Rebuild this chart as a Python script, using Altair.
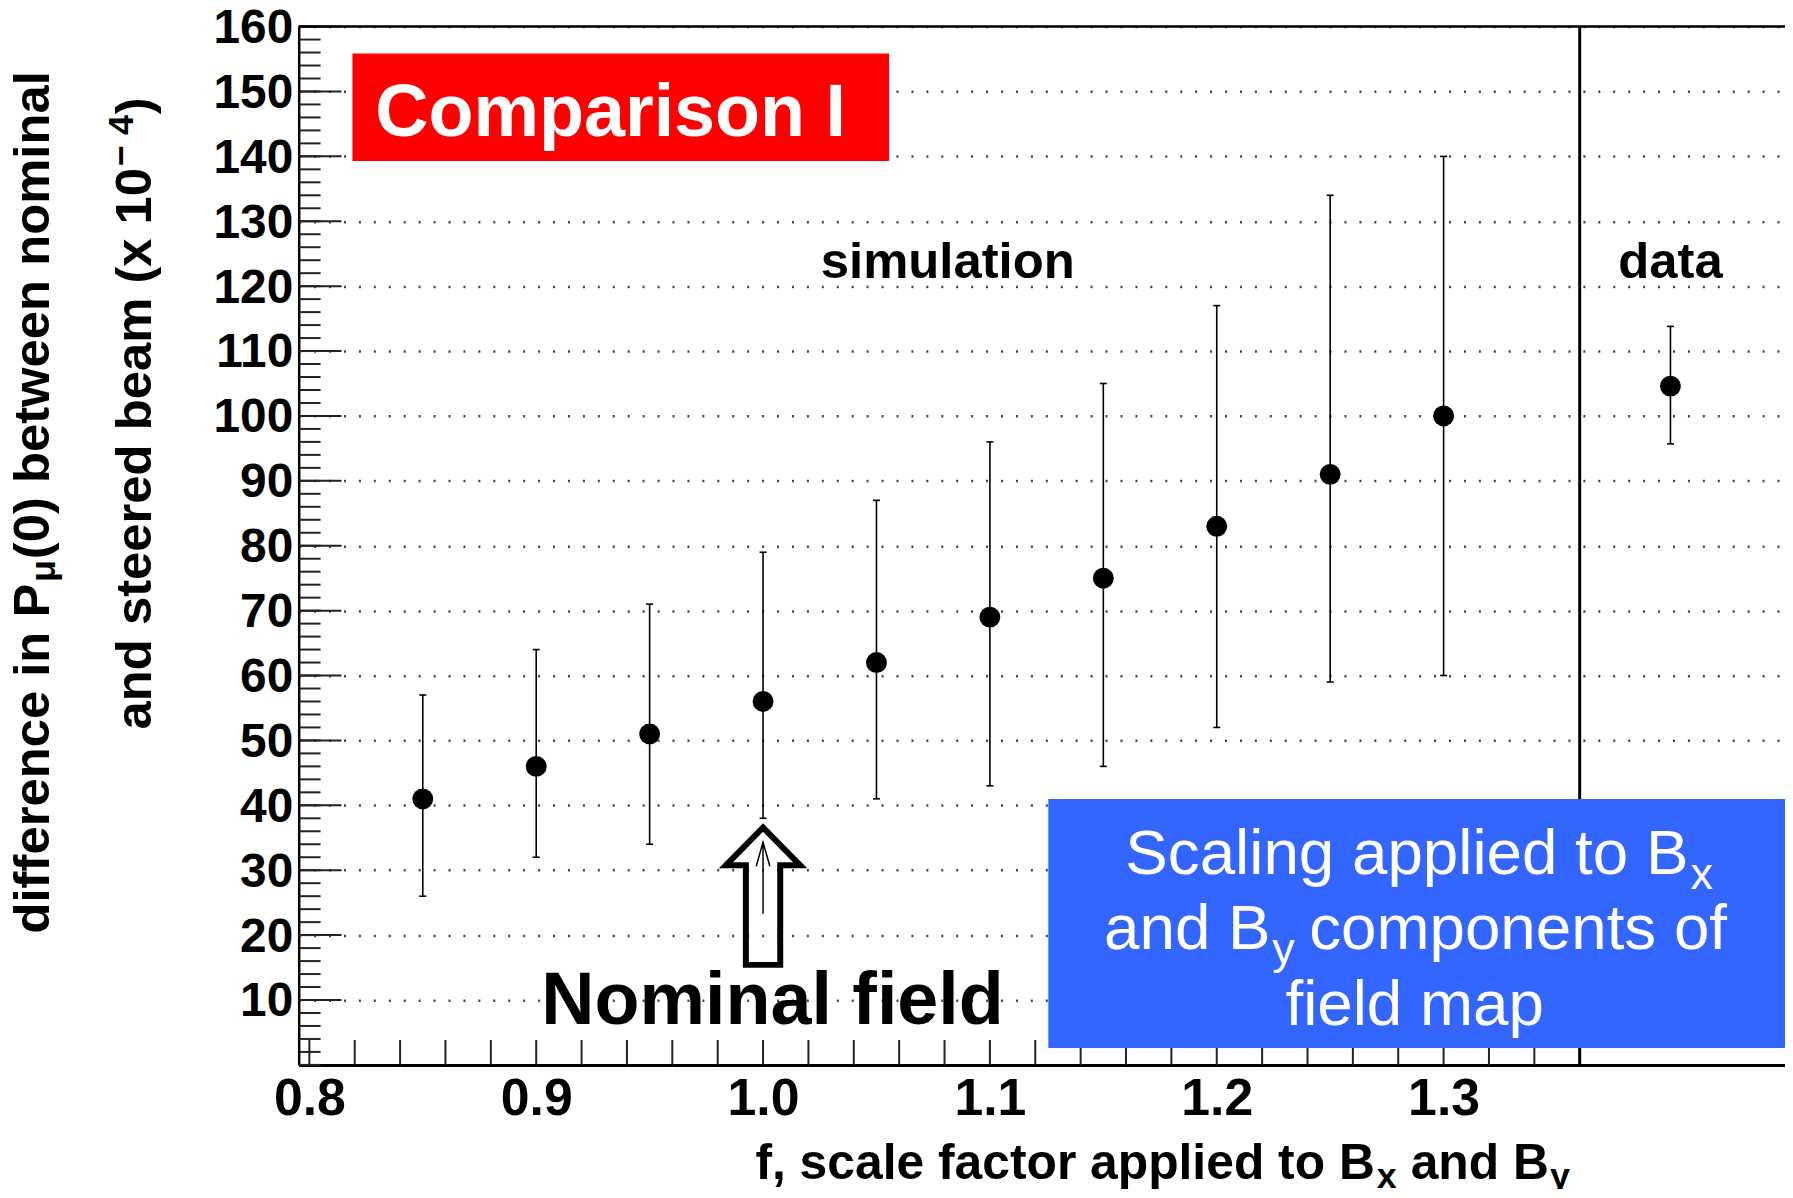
import altair as alt
import pandas as pd

# ---------------- data ----------------
f_sim = [0.85, 0.90, 0.95, 1.00, 1.05, 1.10, 1.15, 1.20, 1.25, 1.30]
d_sim = [41.0, 46.0, 51.0, 56.0, 62.0, 69.0, 75.0, 83.0, 91.0, 100.0]
lo_sim = [26.0, 32.0, 34.0, 38.0, 41.0, 43.0, 46.0, 52.0, 59.0, 60.0]
hi_sim = [57.0, 64.0, 71.0, 79.0, 87.0, 96.0, 105.0, 117.0, 134.0, 140.0]

f_data = [1.40]
d_data = [104.6]
lo_data = [95.7]
hi_data = [113.8]

separator_f = [1.36]

x_labels = [0.8, 0.9, 1.0, 1.1, 1.2, 1.3]
y_labels = [10, 20, 30, 40, 50, 60, 70, 80, 90, 100, 110, 120, 130, 140, 150, 160]
x_minor = [round(0.80 + 0.02 * i, 2) for i in range(29)]   # 0.80 ... 1.36
y_minor = [2 * i for i in range(81)]                       # 0 ... 160

arrow_f = [1.0]
arrow_y = [26.0]
thin_arrow_y = [28.8]

# ---------------- layout ----------------
W, H = 1493, 1043
XDOM = [0.7953, 1.4505]
YDOM = [0, 160]
FONT = "Liberation Sans"

xs = alt.Scale(domain=XDOM, nice=False, zero=False)
ys = alt.Scale(domain=YDOM, nice=False, zero=False)

AX_X = alt.Axis(
    values=x_labels, format=".1f", title=None, ticks=False, grid=False,
    domain=True, domainColor="black", domainWidth=3,
    labelFont=FONT, labelFontWeight="bold", labelFontSize=52,
    labelColor="black", labelPadding=9, labelFlush=False,
    labelOverlap=False, labelBound=False)
AX_Y = alt.Axis(
    values=y_labels, title=None, ticks=False, grid=True,
    gridDash=[2, 13], gridColor="#444", gridWidth=2.5,
    domain=True, domainColor="black", domainWidth=2.5,
    labelFont=FONT, labelFontWeight="bold", labelFontSize=48,
    labelColor="black", labelPadding=6, labelOffset=2, labelFlush=False,
    labelOverlap=False, labelBound=False)


def X(field):
    return alt.X(field, scale=xs, axis=AX_X)


def Y(field):
    return alt.Y(field, scale=ys, axis=AX_Y)


pts = pd.DataFrame({
    "f": f_sim + f_data,
    "d": d_sim + d_data,
    "lo": lo_sim + lo_data,
    "hi": hi_sim + hi_data,
})
one = pd.DataFrame({"a": [0]})


def txt(s, x, y, size, weight="bold", color="black", align="left",
        baseline="alphabetic", angle=0):
    kw = dict(text=s, align=align, baseline=baseline, font=FONT,
              fontSize=size, fontWeight=weight, color=color)
    if angle:
        kw["angle"] = angle
    return alt.Chart(one).mark_text(**kw).encode(x=alt.value(x), y=alt.value(y))


# inner ticks
ytick_minor = alt.Chart(pd.DataFrame({"d": y_minor})).mark_rule(
    color="#222", strokeWidth=2).encode(
    y=Y("d:Q"), x=alt.value(0), x2=alt.value(22))
ytick_major = alt.Chart(pd.DataFrame({"d": y_labels})).mark_rule(
    color="#222", strokeWidth=2).encode(
    y=Y("d:Q"), x=alt.value(0), x2=alt.value(43))
xtick = alt.Chart(pd.DataFrame({"f": x_minor})).mark_rule(
    color="#222", strokeWidth=2).encode(
    x=X("f:Q"), y=alt.value(H - 25), y2=alt.value(H))

top_frame = alt.Chart(one).mark_rule(color="black", strokeWidth=2.5).encode(
    x=alt.value(0), x2=alt.value(W), y=alt.value(0))

separator = alt.Chart(pd.DataFrame({"f": separator_f})).mark_rule(
    color="black", strokeWidth=3).encode(x=X("f:Q"))

# error bars
ebar = alt.Chart(pts).mark_rule(color="black", strokeWidth=1.6).encode(
    x=X("f:Q"), y=Y("lo:Q"), y2="hi:Q")
cap_lo = alt.Chart(pts).mark_tick(orient="horizontal", size=7, thickness=1.6,
                                  color="black", opacity=1).encode(
    x=X("f:Q"), y=Y("lo:Q"))
cap_hi = alt.Chart(pts).mark_tick(orient="horizontal", size=7, thickness=1.6,
                                  color="black", opacity=1).encode(
    x=X("f:Q"), y=Y("hi:Q"))
points = alt.Chart(pts).mark_circle(size=440, color="black", opacity=1).encode(
    x=X("f:Q"), y=Y("d:Q"))

# nominal-field arrow
arrow_df = pd.DataFrame({"f": arrow_f, "y": arrow_y, "y2": thin_arrow_y})
big_arrow = alt.Chart(arrow_df).mark_point(
    shape="M0,-1 L0.54,-0.45 L0.25,-0.45 L0.25,1 L-0.25,1 L-0.25,-0.45 L-0.54,-0.45 Z",
    filled=False, stroke="black", strokeWidth=6, strokeJoin="miter",
    size=19044, opacity=1).encode(x=X("f:Q"), y=Y("y:Q"))
thin_arrow = alt.Chart(arrow_df).mark_point(
    shape="M0,1 L0,-1 M-0.19,-0.33 L0,-1 L0.19,-0.33",
    filled=False, stroke="black", strokeWidth=1.5,
    size=5184, opacity=1).encode(x=X("f:Q"), y=Y("y2:Q"))

# boxes
red_box = alt.Chart(one).mark_rect(color="#ff0000").encode(
    x=alt.value(54), x2=alt.value(593), y=alt.value(27), y2=alt.value(135))
blue_box = alt.Chart(one).mark_rect(color="#3366ff").encode(
    x=alt.value(753), x2=alt.value(W), y=alt.value(776), y2=alt.value(1026))

texts = [
    txt("Comparison I", 77, 110, 74, color="white"),
    txt("simulation", 652, 253, 51, align="center"),
    txt("data", 1378, 253, 51, align="center"),
    txt("Nominal field", 476, 1002, 74, align="center"),
    # blue box text
    txt("Scaling applied to B", 1396, 851, 64, weight="normal", color="white", align="right"),
    txt("x", 1398, 866, 45, weight="normal", color="white"),
    txt("and B", 809, 927, 64, weight="normal", color="white"),
    txt("y", 978, 942, 45, weight="normal", color="white"),
    txt("components of", 1015, 927, 64, weight="normal", color="white"),
    txt("field map", 1121, 1003, 64, weight="normal", color="white", align="center"),
    # x axis title
    txt("f, scale factor applied to B", 1081, 1158, 50, align="right"),
    txt("x", 1083, 1167, 36),
    txt("and B", 1117, 1158, 50),
    txt("y", 1257, 1167, 36),
    # y axis title, line 1
    txt("difference in P", -266, 911, 51, baseline="middle", angle=270),
    txt("\u03bc", -256, 558, 36, baseline="middle", angle=270),
    txt("(0) between nominal", -266, 535, 51, baseline="middle", angle=270),
    # y axis title, line 2
    txt("and steered beam (x 10", -163, 706, 51, baseline="middle", angle=270),
    txt("\u2212 4", -177, 140, 36, baseline="middle", angle=270),
    txt(")", -163, 88, 51, baseline="middle", angle=270),
]

chart = alt.layer(
    ytick_minor, ytick_major, xtick, top_frame, separator,
    ebar, cap_lo, cap_hi, points, big_arrow, thin_arrow,
    red_box, blue_box, *texts,
).properties(
    width=W, height=H,
    autosize=alt.AutoSizeParams(type="none"),
    padding={"left": 292, "top": 16, "right": 0, "bottom": 122},
    background="white",
).configure_view(stroke=None)

chart.save("out.html", embed_options={"renderer": "svg", "actions": False})
